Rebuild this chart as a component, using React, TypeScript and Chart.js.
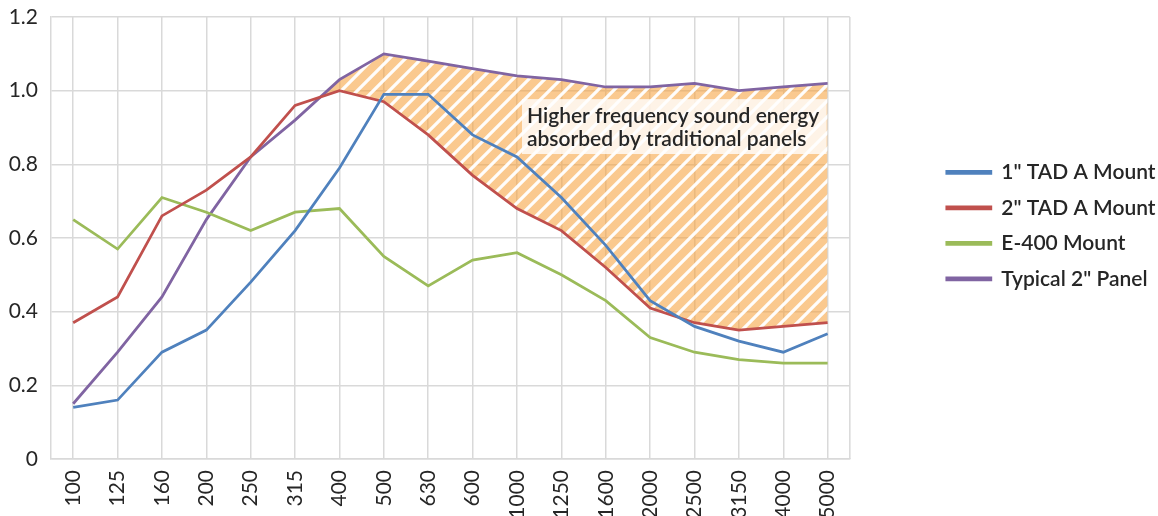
import React, { useEffect, useRef } from "react";
import { Chart, registerables } from "chart.js";

Chart.register(...registerables);

const categories = ["100", "125", "160", "200", "250", "315", "400", "500", "630", "600", "1000", "1250", "1600", "2000", "2500", "3150", "4000", "5000"];
const tad1 = [0.14, 0.16, 0.29, 0.35, 0.48, 0.62, 0.79, 0.99, 0.99, 0.88, 0.82, 0.71, 0.58, 0.43, 0.36, 0.32, 0.29, 0.34];
const tad2 = [0.37, 0.44, 0.66, 0.73, 0.82, 0.96, 1.0, 0.97, 0.88, 0.77, 0.68, 0.62, 0.52, 0.41, 0.37, 0.35, 0.36, 0.37];
const e400 = [0.65, 0.57, 0.71, 0.67, 0.62, 0.67, 0.68, 0.55, 0.47, 0.54, 0.56, 0.5, 0.43, 0.33, 0.29, 0.27, 0.26, 0.26];
const typical = [0.15, 0.29, 0.44, 0.65, 0.82, 0.92, 1.03, 1.1, 1.08, 1.06, 1.04, 1.03, 1.01, 1.01, 1.02, 1.0, 1.01, 1.02];
const seriesNames = ['1" TAD A Mount', '2" TAD A Mount', "E-400 Mount", 'Typical 2" Panel'];
const seriesColors = ["#4F81BD", "#C0504D", "#9BBB59", "#8064A2"];
const yTicks = [0, 0.2, 0.4, 0.6, 0.8, 1.0, 1.2];
const noteLines = ["Higher frequency sound energy", "absorbed by traditional panels"];
const noteFromCategory = "1000";
const noteToCategory = "5000";
const noteTop = 0.977;
const noteBottom = 0.828;

const LEGEND_PAD = 14.5;
const LEGEND_OFFSET = 97;

function makeHatch(): CanvasPattern | string {
  const s = 16;
  const c = document.createElement("canvas");
  c.width = s;
  c.height = s;
  const g = c.getContext("2d");
  if (!g) return "rgba(247,160,60,0.6)";
  g.fillStyle = "rgba(247,162,62,0.58)";
  g.fillRect(0, 0, s, s);
  g.strokeStyle = "rgba(255,255,255,0.97)";
  g.lineWidth = 3.2;
  g.beginPath();
  g.moveTo(0, s);
  g.lineTo(s, 0);
  g.moveTo(-s / 2, s / 2);
  g.lineTo(s / 2, -s / 2);
  g.moveTo(s / 2, s + s / 2);
  g.lineTo(s + s / 2, s / 2);
  g.stroke();
  const p = g.createPattern(c, "repeat");
  return p || "rgba(247,160,60,0.6)";
}

const frameAndNote = {
  id: "frameAndNote",
  afterLayout(chart: any) {
    const lg = chart.legend;
    if (!lg) return;
    const dx = chart.chartArea.right + LEGEND_OFFSET - (lg.left + LEGEND_PAD);
    lg.left += dx;
    lg.right += dx;
  },
  beforeDatasetsDraw(chart: any) {
    const { ctx, chartArea } = chart;
    ctx.save();
    ctx.strokeStyle = "#D9D9D9";
    ctx.lineWidth = 1.5;
    ctx.beginPath();
    ctx.moveTo(chartArea.right, chartArea.top);
    ctx.lineTo(chartArea.right, chartArea.bottom);
    ctx.stroke();
    ctx.restore();
  },
  afterDatasetsDraw(chart: any) {
    const { ctx } = chart;
    const xs = chart.scales.x;
    const ys = chart.scales.y;
    const x0 = xs.getPixelForValue(categories.indexOf(noteFromCategory)) + 5;
    const x1 = xs.getPixelForValue(categories.indexOf(noteToCategory)) - 1;
    const y0 = ys.getPixelForValue(noteTop);
    const y1 = ys.getPixelForValue(noteBottom);
    ctx.save();
    ctx.fillStyle = "rgba(255,255,255,0.78)";
    ctx.fillRect(x0, y0, x1 - x0, y1 - y0);
    ctx.fillStyle = "#262626";
    ctx.font = "600 21px Lato";
    ctx.textBaseline = "alphabetic";
    ctx.textAlign = "left";
    ctx.fillText(noteLines[0], x0 + 5, y0 + 24);
    ctx.fillText(noteLines[1], x0 + 5, y0 + 47);
    ctx.restore();
  },
};

export default function App() {
  const ref = useRef<HTMLCanvasElement>(null);
  useEffect(() => {
    document.body.style.margin = "0";
    if (!ref.current) return;
    const hatch = makeHatch();
    const data = [tad1, tad2, e400, typical];
    const chart = new Chart(ref.current, {
      type: "line",
      data: {
        labels: categories,
        datasets: data.map((d, i) => ({
          label: seriesNames[i],
          data: d,
          borderColor: seriesColors[i],
          backgroundColor: seriesColors[i],
          borderWidth: 2.75,
          pointRadius: 0,
          tension: 0,
          fill: i === 3 ? { target: 1, above: hatch, below: "rgba(0,0,0,0)" } : false,
        })),
      },
      options: {
        animation: false,
        responsive: true,
        maintainAspectRatio: false,
        layout: { padding: { left: 6, top: 17, right: 75, bottom: 0 } },
        plugins: {
          tooltip: { enabled: false },
          legend: {
            position: "right",
            align: "start",
            title: { display: true, text: "", padding: { top: 0, bottom: 116 } },
            labels: {
              boxWidth: 44,
              boxHeight: 2,
              padding: LEGEND_PAD,
              color: "#262626",
              font: { family: "Lato", size: 21, weight: "600" as any },
            },
          },
        },
        scales: {
          x: {
            offset: true,
            grid: { color: "#D9D9D9", lineWidth: 1.5, drawTicks: false, offset: false },
            border: { color: "#D9D9D9", width: 1.5 },
            ticks: {
              autoSkip: false,
              maxRotation: 90,
              minRotation: 90,
              padding: 11,
              color: "#262626",
              font: { family: "Lato", size: 21 },
            },
            afterFit(scale: any) {
              scale.height = 57;
            },
          },
          y: {
            min: 0,
            max: 1.2,
            afterBuildTicks(scale: any) {
              scale.ticks = yTicks.map((v) => ({ value: v }));
            },
            afterFit(scale: any) {
              scale.width = 45;
              scale.paddingTop = 0;
              scale.paddingBottom = 0;
            },
            grid: { color: "#D9D9D9", lineWidth: 1.5, drawTicks: false },
            border: { color: "#D9D9D9", width: 1.5 },
            ticks: {
              padding: 13,
              color: "#262626",
              font: { family: "Lato", size: 21 },
              callback: (v: any) => (Number(v) === 0 ? "0" : Number(v).toFixed(1)),
            },
          },
        },
      },
      plugins: [frameAndNote],
    });
    return () => chart.destroy();
  }, []);
  return (
    <div style={{ position: "relative", width: "1158px", height: "516px" }}>
      <canvas ref={ref} />
    </div>
  );
}
